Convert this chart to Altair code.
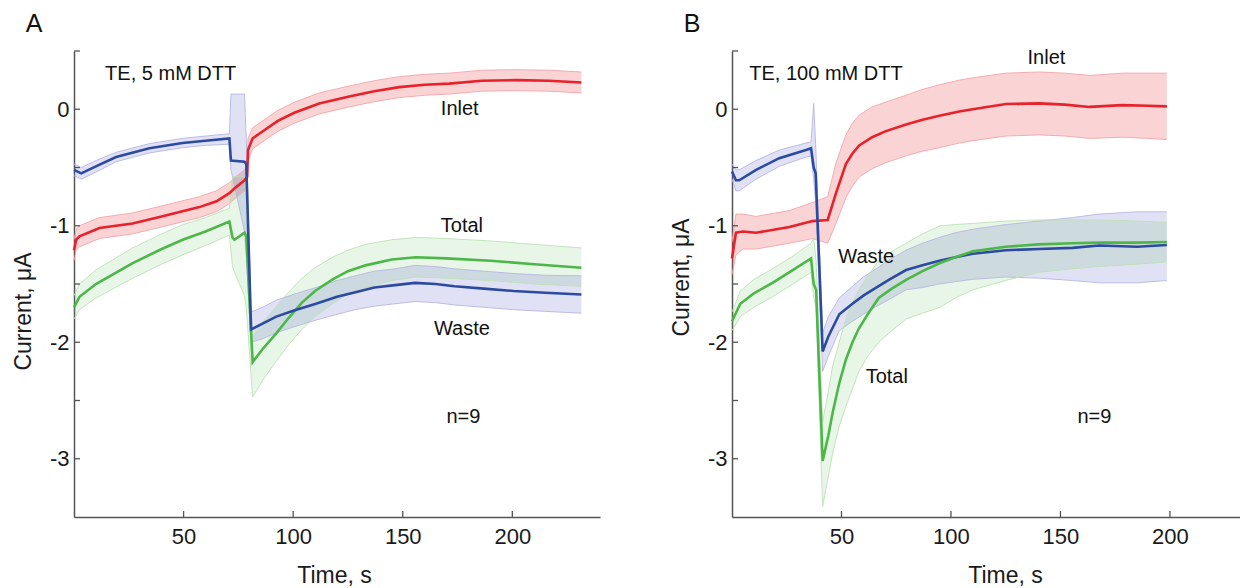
import altair as alt
import pandas as pd

SERIES = ["Inlet", "Waste", "Total"]
LINE_COLORS = ["#e8212a", "#2c4ba0", "#4cb748"]
BAND_COLORS = ["#e8212a", "#4b4bc4", "#4cb748"]
BAND_OPACITY = [0.2, 0.13, 0.14]
EDGE_COLORS = ["#f2a6aa", "#b7b7e2", "#bde1b6"]

X_TICKS = [50, 100, 150, 200]
Y_LABELS = [-3, -2, -1, 0]
Y_TICKS = [-3.0, -2.5, -2.0, -1.5, -1.0, -0.5, 0.0, 0.5]

# ---------------- Panel A: TE, 5 mM DTT ----------------
A_IN_T = [0, 1, 2.5, 11.6, 26.7, 40, 57.2, 65, 70.9, 73.2, 77.8, 79.0, 79.4, 81.5, 86.8, 93, 100.5, 111.9, 125.6, 137, 148.4, 160, 171.2, 186, 201.7, 216.7, 231.5]
A_IN_M = [-1.21, -1.12, -1.09, -1.02, -0.98, -0.92, -0.84, -0.79, -0.72, -0.68, -0.61, -0.58, -0.35, -0.25, -0.18, -0.10, -0.03, 0.05, 0.11, 0.155, 0.19, 0.21, 0.22, 0.245, 0.25, 0.245, 0.23]
A_IN_LO = [-1.30, -1.21, -1.18, -1.11, -1.07, -1.01, -0.93, -0.88, -0.81, -0.77, -0.70, -0.68, -0.45, -0.34, -0.27, -0.19, -0.12, -0.04, 0.02, 0.065, 0.10, 0.12, 0.13, 0.155, 0.16, 0.155, 0.14]
A_IN_HI = [-1.12, -1.03, -1.00, -0.93, -0.89, -0.83, -0.75, -0.70, -0.63, -0.59, -0.52, -0.48, -0.25, -0.16, -0.09, -0.01, 0.06, 0.14, 0.20, 0.245, 0.28, 0.30, 0.31, 0.335, 0.34, 0.335, 0.32]

A_WA_T = [0, 3.3, 10, 19.2, 34.4, 49.5, 60, 70.9, 71.6, 77.8, 78.6, 80.8, 86, 92.3, 100, 110.4, 120, 128.4, 137, 146.5, 155.5, 165, 173.6, 187, 200.6, 215, 231.5]
A_WA_M = [-0.52, -0.55, -0.49, -0.41, -0.335, -0.29, -0.27, -0.25, -0.44, -0.45, -0.47, -1.89, -1.84, -1.78, -1.73, -1.67, -1.61, -1.57, -1.53, -1.51, -1.49, -1.50, -1.52, -1.54, -1.56, -1.575, -1.59]
A_WA_LO = [-0.57, -0.60, -0.54, -0.45, -0.375, -0.33, -0.31, -0.30, -0.52, -1.05, -1.25, -2.00, -1.97, -1.92, -1.87, -1.81, -1.76, -1.72, -1.69, -1.67, -1.65, -1.66, -1.68, -1.70, -1.72, -1.735, -1.75]
A_WA_HI = [-0.47, -0.50, -0.44, -0.37, -0.295, -0.25, -0.23, -0.21, 0.13, 0.13, -0.25, -1.74, -1.70, -1.64, -1.59, -1.53, -1.47, -1.43, -1.39, -1.37, -1.34, -1.35, -1.37, -1.39, -1.41, -1.425, -1.43]

A_TO_T = [0, 2.5, 10, 26.8, 40, 49.6, 60, 70.9, 72.3, 73.2, 77.8, 78.6, 81.5, 86, 92, 98, 104, 110, 118, 125, 133, 145, 156, 170, 190, 210, 231.5]
A_TO_M = [-1.70, -1.61, -1.50, -1.32, -1.20, -1.12, -1.05, -0.965, -1.10, -1.12, -1.06, -1.09, -2.17, -2.06, -1.93, -1.79, -1.66, -1.56, -1.46, -1.39, -1.34, -1.29, -1.27, -1.28, -1.30, -1.33, -1.36]
A_TO_LO = [-1.80, -1.72, -1.62, -1.45, -1.33, -1.25, -1.17, -1.08, -1.35, -1.40, -1.60, -1.70, -2.47, -2.33, -2.17, -2.02, -1.89, -1.78, -1.67, -1.59, -1.53, -1.47, -1.44, -1.45, -1.47, -1.50, -1.52]
A_TO_HI = [-1.60, -1.50, -1.38, -1.19, -1.07, -0.99, -0.93, -0.85, -0.58, -0.58, -0.58, -0.85, -1.95, -1.83, -1.70, -1.57, -1.45, -1.36, -1.27, -1.21, -1.16, -1.12, -1.10, -1.11, -1.13, -1.16, -1.19]

A_NOTES = ["TE, 5 mM DTT", "Inlet", "Total", "Waste", "n=9"]
A_NOTES_T = [14.2, 176, 177, 177, 177.7]
A_NOTES_V = [0.306, 0.0, -1.0, -1.89, -2.64]
A_NOTES_ALIGN = ["left", "center", "center", "center", "center"]

# ---------------- Panel B: TE, 100 mM DTT ----------------
B_IN_T = [0, 1.8, 5, 11, 26.2, 36.8, 43.7, 47.5, 52, 55, 58.1, 64, 70, 79.5, 87, 94.7, 103.8, 109.9, 125.1, 140.3, 152, 163.2, 178.4, 190, 198.6]
B_IN_M = [-1.28, -1.06, -1.05, -1.06, -1.01, -0.96, -0.95, -0.72, -0.47, -0.38, -0.31, -0.24, -0.19, -0.13, -0.09, -0.055, -0.02, 0.00, 0.045, 0.05, 0.04, 0.02, 0.035, 0.03, 0.025]
B_IN_LO = [-1.42, -1.25, -1.20, -1.20, -1.15, -1.11, -1.15, -0.98, -0.76, -0.66, -0.58, -0.51, -0.46, -0.40, -0.36, -0.33, -0.29, -0.27, -0.23, -0.22, -0.23, -0.25, -0.24, -0.25, -0.26]
B_IN_HI = [-1.14, -0.90, -0.90, -0.92, -0.87, -0.80, -0.75, -0.46, -0.22, -0.12, -0.05, 0.02, 0.06, 0.12, 0.17, 0.21, 0.25, 0.27, 0.31, 0.32, 0.31, 0.29, 0.31, 0.31, 0.31]

B_WA_T = [0, 1.8, 3.3, 11, 21.6, 33.8, 36.1, 37.3, 38.2, 41.4, 44, 49, 55, 60, 64.2, 72, 79.5, 87, 94.7, 102, 109.9, 125.1, 140.3, 155.5, 167.7, 185, 198.6]
B_WA_M = [-0.535, -0.61, -0.61, -0.52, -0.42, -0.35, -0.335, -0.50, -0.55, -2.08, -1.95, -1.76, -1.67, -1.60, -1.55, -1.46, -1.38, -1.34, -1.30, -1.27, -1.24, -1.21, -1.20, -1.19, -1.17, -1.18, -1.165]
B_WA_LO = [-0.60, -0.70, -0.70, -0.60, -0.49, -0.41, -0.40, -0.60, -0.80, -2.25, -2.12, -1.90, -1.82, -1.76, -1.71, -1.63, -1.55, -1.53, -1.50, -1.48, -1.46, -1.44, -1.45, -1.47, -1.49, -1.49, -1.47]
B_WA_HI = [-0.47, -0.52, -0.52, -0.44, -0.35, -0.29, -0.28, 0.05, -0.30, -1.92, -1.78, -1.62, -1.52, -1.44, -1.39, -1.29, -1.21, -1.15, -1.10, -1.06, -1.03, -0.99, -0.96, -0.93, -0.90, -0.88, -0.88]

B_TO_T = [0, 3.8, 10, 18.5, 27, 36.1, 37.3, 38.4, 41.4, 44, 46, 49, 52, 55, 58, 62, 67, 73, 79.5, 87, 95, 102, 110, 125, 140, 155, 168, 185, 198.6]
B_TO_M = [-1.82, -1.67, -1.58, -1.49, -1.39, -1.28, -1.50, -1.55, -3.02, -2.80, -2.60, -2.35, -2.15, -2.00, -1.88, -1.76, -1.62, -1.54, -1.465, -1.39, -1.32, -1.27, -1.22, -1.18, -1.16, -1.15, -1.145, -1.145, -1.14]
B_TO_LO = [-1.90, -1.78, -1.70, -1.61, -1.51, -1.40, -1.62, -1.70, -3.41, -3.15, -2.95, -2.72, -2.55, -2.40, -2.25, -2.12, -2.00, -1.90, -1.80, -1.75, -1.70, -1.62, -1.55, -1.47, -1.40, -1.37, -1.35, -1.33, -1.31]
B_TO_HI = [-1.74, -1.56, -1.46, -1.37, -1.27, -1.15, -1.10, -1.30, -2.68, -2.42, -2.20, -2.00, -1.80, -1.66, -1.55, -1.43, -1.30, -1.22, -1.15, -1.07, -1.00, -0.99, -0.98, -0.96, -0.95, -0.95, -0.95, -0.96, -0.97]

B_NOTES = ["TE, 100 mM DTT", "Inlet", "Waste", "Total", "n=9"]
B_NOTES_T = [7.9, 143.6, 61.3, 70.7, 165.5]
B_NOTES_V = [0.30, 0.44, -1.265, -2.295, -2.64]
B_NOTES_ALIGN = ["left", "center", "center", "center", "center"]

FONT = "Liberation Sans"
H = 466


def series_df(name, t, m, lo, hi):
    return pd.DataFrame({"series": name, "t": t, "m": m, "lo": lo, "hi": hi})


def panel(df, xmax, width, notes, letter, xtitle_x, ytitle_y):
    xs = alt.Scale(domain=[0, xmax], nice=False, zero=False)
    ys = alt.Scale(domain=[-3.5, 0.5], nice=False, zero=False)
    xax = alt.Axis(values=X_TICKS, ticks=False, grid=False, title="Time, s",
                   labelFont=FONT, labelFontSize=22, labelColor="#1a1a1a",
                   labelPadding=9, domainColor="#555555", domainWidth=1.5,
                   titleFont=FONT, titleFontSize=23, titleFontWeight="normal",
                   titleColor="#1a1a1a", titleX=xtitle_x, titleY=65,
                   titleBaseline="alphabetic", titleAlign="center")
    yax = alt.Axis(values=Y_LABELS, ticks=False, grid=False, title="Current, μA",
                   labelExpr="'' + datum.value",
                   labelFont=FONT, labelFontSize=22, labelColor="#1a1a1a",
                   labelPadding=5, domainColor="#555555", domainWidth=1.5,
                   titleFont=FONT, titleFontSize=23, titleFontWeight="normal",
                   titleColor="#1a1a1a", titleX=-51, titleY=ytitle_y,
                   titleBaseline="middle", titleAlign="center", titleAngle=-90)
    X = alt.X("t:Q", scale=xs, axis=xax)

    def Y(field):
        return alt.Y(field, type="quantitative", scale=ys, axis=yax)

    base = alt.Chart(df)
    area = base.mark_area(interpolate="linear").encode(
        x=X, y=Y("lo"), y2="hi:Q",
        fill=alt.Fill("series:N", scale=alt.Scale(domain=SERIES, range=BAND_COLORS), legend=None),
        fillOpacity=alt.FillOpacity("series:N", scale=alt.Scale(domain=SERIES, range=BAND_OPACITY), legend=None),
    )
    edge_color = alt.Color("series:N", scale=alt.Scale(domain=SERIES, range=EDGE_COLORS), legend=None)
    edge_lo = base.mark_line(strokeWidth=0.9).encode(x=X, y=Y("lo"), color=edge_color)
    edge_hi = base.mark_line(strokeWidth=0.9).encode(x=X, y=Y("hi"), color=edge_color)
    mean = base.mark_line(strokeWidth=2.6).encode(
        x=X, y=Y("m"),
        stroke=alt.Stroke("series:N", scale=alt.Scale(domain=SERIES, range=LINE_COLORS), legend=None),
    )

    xt = alt.Chart(pd.DataFrame({"t": X_TICKS})).mark_rule(color="#555555", strokeWidth=1.3).encode(
        x=X, y=alt.value(H), y2=alt.value(H - 6))
    yt = alt.Chart(pd.DataFrame({"lo": Y_TICKS})).mark_rule(color="#555555", strokeWidth=1.3).encode(
        y=Y("lo"), x=alt.value(0), x2=alt.value(6))

    ndf = pd.DataFrame({"label": notes[0], "t": notes[1], "lo": notes[2], "align": notes[3]})
    left = alt.Chart(ndf[ndf["align"] == "left"]).mark_text(
        font=FONT, fontSize=20, align="left", baseline="middle", color="#111111").encode(
        x=X, y=Y("lo"), text="label:N")
    center = alt.Chart(ndf[ndf["align"] == "center"]).mark_text(
        font=FONT, fontSize=20, align="center", baseline="middle", color="#111111").encode(
        x=X, y=Y("lo"), text="label:N")

    let = alt.Chart(pd.DataFrame({"label": [letter]})).mark_text(
        font=FONT, fontSize=25, align="center", baseline="middle", color="#111111").encode(
        x=alt.value(-40), y=alt.value(-27), text="label:N")

    return alt.layer(area, edge_lo, edge_hi, mean, xt, yt, left, center, let).properties(
        width=width, height=H)


dfA = pd.concat([
    series_df("Inlet", A_IN_T, A_IN_M, A_IN_LO, A_IN_HI),
    series_df("Total", A_TO_T, A_TO_M, A_TO_LO, A_TO_HI),
    series_df("Waste", A_WA_T, A_WA_M, A_WA_LO, A_WA_HI),
], ignore_index=True)
dfB = pd.concat([
    series_df("Inlet", B_IN_T, B_IN_M, B_IN_LO, B_IN_HI),
    series_df("Waste", B_WA_T, B_WA_M, B_WA_LO, B_WA_HI),
    series_df("Total", B_TO_T, B_TO_M, B_TO_LO, B_TO_HI),
], ignore_index=True)

pA = panel(dfA, 240, 526, (A_NOTES, A_NOTES_T, A_NOTES_V, A_NOTES_ALIGN), "A", 260, 260)
pB = panel(dfB, 232, 508, (B_NOTES, B_NOTES_T, B_NOTES_V, B_NOTES_ALIGN), "B", 273, 226)

chart = alt.hconcat(pA, pB, spacing=70).properties(
    padding={"left": 4, "top": 4, "right": 0, "bottom": 0},
    background="white",
).configure_view(stroke=None)

chart.save("out.html", embed_options={"renderer": "svg", "actions": False})
